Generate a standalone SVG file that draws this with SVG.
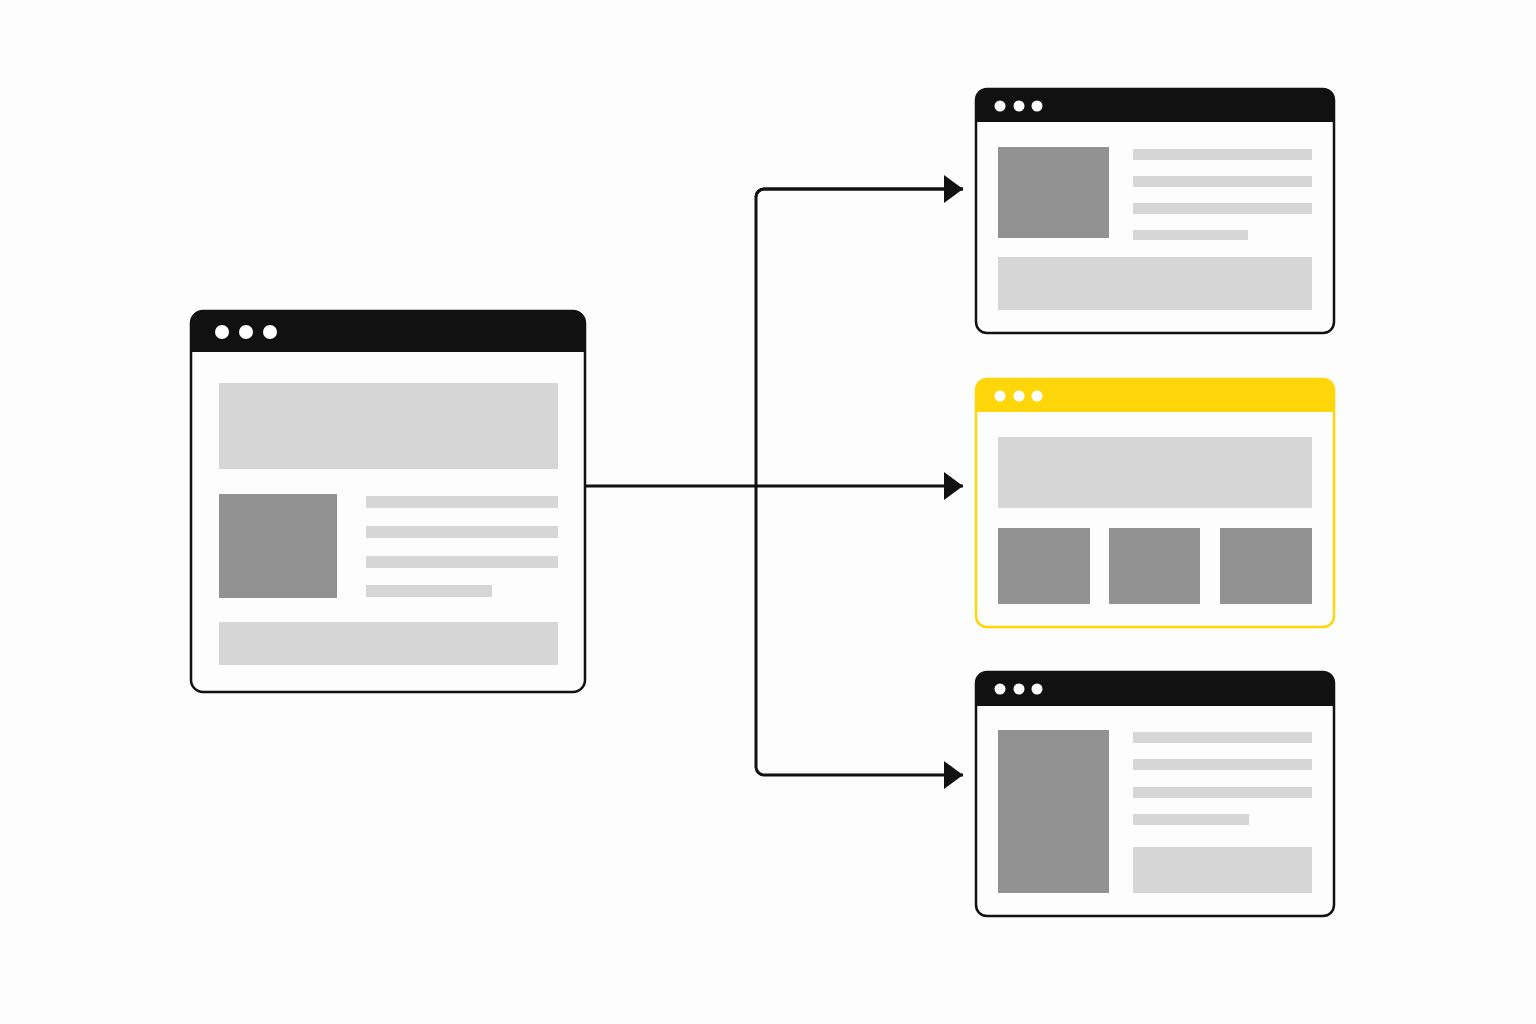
<svg xmlns="http://www.w3.org/2000/svg" width="1536" height="1024" viewBox="0 0 1536 1024">
<defs>
<style>
.frame{fill:#fdfdfd;stroke:#111;stroke-width:2.5}
.frameY{fill:#fdfdfd;stroke:#ffd60a;stroke-width:2.5}
.hdr{fill:#111}
.hdrY{fill:#ffd60a}
.dot{fill:#fff}
.lt{fill:#d6d6d7}
.dk{fill:#929292}
.conn{fill:none;stroke:#111;stroke-width:3;stroke-linejoin:round}
</style>
<marker id="arr" markerWidth="20" markerHeight="28" viewBox="0 0 20 28" refX="19" refY="14" orient="auto" markerUnits="userSpaceOnUse">
<path d="M0,0 L19,14 L0,28 Z" fill="#111"/>
</marker>
</defs>
<rect width="1536" height="1024" fill="#fdfdfd"/>

<g id="source">
<rect class="frame" x="191" y="311" width="394" height="381" rx="12"/>
<path class="hdr" d="M191,352 V323 A12,12 0 0 1 203,311 H573 A12,12 0 0 1 585,323 V352 Z"/>
<circle class="dot" cx="222" cy="332" r="7"/>
<circle class="dot" cx="246" cy="332" r="7"/>
<circle class="dot" cx="270" cy="332" r="7"/>
<rect class="lt" x="219" y="383" width="339" height="86"/>
<rect class="dk" x="219" y="494" width="118" height="104"/>
<rect class="lt" x="366" y="496" width="192" height="12"/>
<rect class="lt" x="366" y="526" width="192" height="12"/>
<rect class="lt" x="366" y="556" width="192" height="12"/>
<rect class="lt" x="366" y="585" width="126" height="12"/>
<rect class="lt" x="219" y="622" width="339" height="43"/>
</g>

<g id="target-top">
<rect class="frame" x="976" y="89" width="358" height="244" rx="11"/>
<path class="hdr" d="M976,122 V100 A11,11 0 0 1 987,89 H1323 A11,11 0 0 1 1334,100 V122 Z"/>
<circle class="dot" cx="1000" cy="106" r="5.5"/>
<circle class="dot" cx="1019" cy="106" r="5.5"/>
<circle class="dot" cx="1037" cy="106" r="5.5"/>
<rect class="dk" x="998" y="147" width="111" height="91"/>
<rect class="lt" x="1133" y="149" width="179" height="11"/>
<rect class="lt" x="1133" y="176" width="179" height="11"/>
<rect class="lt" x="1133" y="203" width="179" height="11"/>
<rect class="lt" x="1133" y="230" width="115" height="10"/>
<rect class="lt" x="998" y="257" width="314" height="53"/>
</g>

<g id="target-middle">
<rect class="frameY" x="976" y="379" width="358" height="248" rx="11"/>
<path class="hdrY" d="M976,412 V390 A11,11 0 0 1 987,379 H1323 A11,11 0 0 1 1334,390 V412 Z"/>
<circle class="dot" cx="1000" cy="396" r="5.5"/>
<circle class="dot" cx="1019" cy="396" r="5.5"/>
<circle class="dot" cx="1037" cy="396" r="5.5"/>
<rect class="lt" x="998" y="437" width="314" height="71"/>
<rect class="dk" x="998" y="528" width="92" height="76"/>
<rect class="dk" x="1109" y="528" width="91" height="76"/>
<rect class="dk" x="1220" y="528" width="92" height="76"/>
</g>

<g id="target-bottom">
<rect class="frame" x="976" y="672" width="358" height="244" rx="11"/>
<path class="hdr" d="M976,706 V683 A11,11 0 0 1 987,672 H1323 A11,11 0 0 1 1334,683 V706 Z"/>
<circle class="dot" cx="1000" cy="689" r="5.5"/>
<circle class="dot" cx="1019" cy="689" r="5.5"/>
<circle class="dot" cx="1037" cy="689" r="5.5"/>
<rect class="dk" x="998" y="730" width="111" height="163"/>
<rect class="lt" x="1133" y="732" width="179" height="11"/>
<rect class="lt" x="1133" y="759" width="179" height="11"/>
<rect class="lt" x="1133" y="787" width="179" height="11"/>
<rect class="lt" x="1133" y="814" width="116" height="11"/>
<rect class="lt" x="1133" y="847" width="179" height="46"/>
</g>

<g id="connectors">
<path class="conn" d="M586,486 H963" marker-end="url(#arr)"/>
<path class="conn" d="M963,189 H764 A8,8 0 0 0 756,197 V767 A8,8 0 0 0 764,775 H963" marker-end="url(#arr)"/>
<path class="conn" d="M756,197 A8,8 0 0 1 764,189 H963" marker-end="url(#arr)"/>
</g>
</svg>
